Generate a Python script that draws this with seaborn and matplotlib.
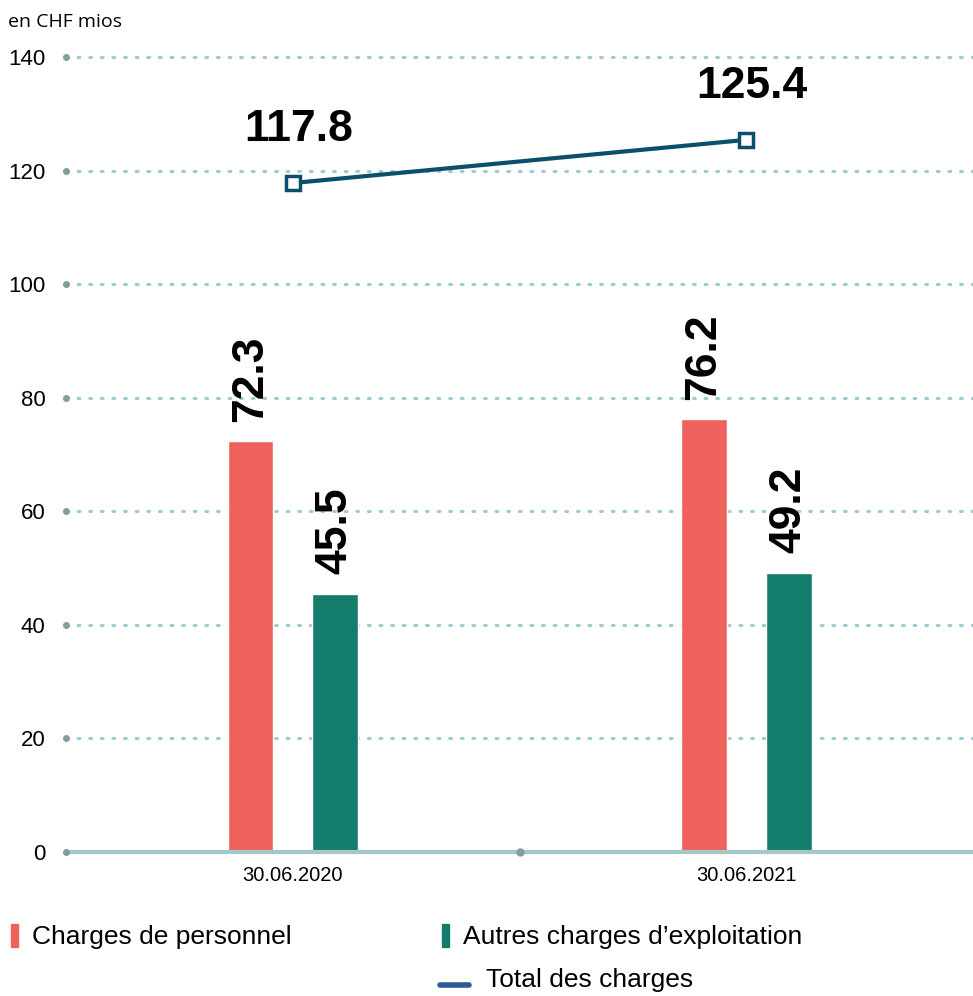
import numpy as np
import pandas as pd
import matplotlib
matplotlib.use("Agg")
import matplotlib.pyplot as plt
from matplotlib.lines import Line2D
from matplotlib.patches import Rectangle
import seaborn as sns

# données (en CHF mios)
dates = ["30.06.2020", "30.06.2021"]
charges_personnel = [72.3, 76.2]
autres_charges = [45.5, 49.2]
total_charges = [117.8, 125.4]
series_noms = ["Charges de personnel", "Autres charges d\u2019exploitation"]
yticks = [0, 20, 40, 60, 80, 100, 120, 140]

ROUGE = "#ED625D"
VERT = "#137C6C"
BLEU_LIGNE = "#0C4F6C"
BLEU_LEGENDE = "#2D5A96"
GRILLE = "#9CCBD0"

sns.set_theme(style="white")
plt.rcParams["font.family"] = ["Liberation Sans", "DejaVu Sans"]
plt.rcParams["text.color"] = "black"

df = pd.DataFrame({
    "date": dates * 2,
    "serie": [series_noms[0]] * 2 + [series_noms[1]] * 2,
    "valeur": charges_personnel + autres_charges,
})

fig = plt.figure(figsize=(9.73, 9.96), dpi=100)
ax = fig.add_axes([0.068, 0.1446, 0.932, 0.7982])

sns.barplot(data=df, x="date", y="valeur", hue="serie", hue_order=series_noms,
            palette=[ROUGE, VERT], width=0.374, gap=0.46, legend=False,
            saturation=1, ax=ax, zorder=3)

for cont in ax.containers:
    ax.bar_label(cont, fmt="%.1f", rotation=90, padding=14, fontsize=32,
                 fontweight="bold", color="black")

sns.lineplot(x=dates, y=total_charges, color=BLEU_LIGNE, linewidth=3,
             marker="s", markersize=10, markerfacecolor="white",
             markeredgecolor=BLEU_LIGNE, markeredgewidth=2.5, ax=ax, zorder=4)
for i, v in enumerate(total_charges):
    ax.annotate(f"{v:.1f}", (i, v), xytext=(4, 24), textcoords="offset points",
                ha="center", va="bottom", fontsize=32, fontweight="bold",
                color="black")

ax.set_xlim(-0.5, 1.5)
ax.set_ylim(0, 140)
ax.set_yticks(yticks)
ax.set_xlabel("")
ax.set_ylabel("")
for s in ax.spines.values():
    s.set_visible(False)
ax.tick_params(axis="both", length=0, labelsize=16, colors="black")
ax.tick_params(axis="y", pad=15)
ax.tick_params(axis="x", pad=10, labelsize=14.5)

# grille pointillée + ligne zéro
for t in yticks[1:]:
    ax.axhline(t, color=GRILLE, linewidth=2.2, linestyle=(0, (0.6, 3.2)),
               dash_capstyle="round", zorder=1, clip_on=False)
ax.axhline(0, color="#A6C7CA", linewidth=3, zorder=5, clip_on=False)
ax.plot([0] * len(yticks), yticks, "o", color="#7E9EA0", markersize=4,
        transform=ax.get_yaxis_transform(), clip_on=False, zorder=6)
ax.plot([0.5], [0], "o", color="#7E9EA0", markersize=5, clip_on=False, zorder=6)

fig.text(0.008, 0.978, "en CHF mios", fontsize=14, family=["Open Sans", "DejaVu Sans"],
         va="center", ha="left", color="black")

# légende manuelle
H = 996.0
W = 973.0
fig.patches.append(Rectangle((11 / W, 1 - 947 / H), 7 / W, 23 / H, color=ROUGE,
                             transform=fig.transFigure, figure=fig))
fig.patches.append(Rectangle((442 / W, 1 - 947 / H), 7 / W, 23 / H, color=VERT,
                             transform=fig.transFigure, figure=fig))
fig.lines.append(Line2D([440 / W, 469 / W], [1 - 985 / H] * 2, color=BLEU_LEGENDE,
                        linewidth=4, transform=fig.transFigure, figure=fig))
fig.text(32 / W, 1 - 937 / H, series_noms[0], fontsize=19, va="center", ha="left")
fig.text(463 / W, 1 - 937 / H, series_noms[1], fontsize=19, va="center", ha="left")
fig.text(486 / W, 1 - 980 / H, "Total des charges", fontsize=19, va="center", ha="left")

fig.savefig("out.png", dpi=100)
